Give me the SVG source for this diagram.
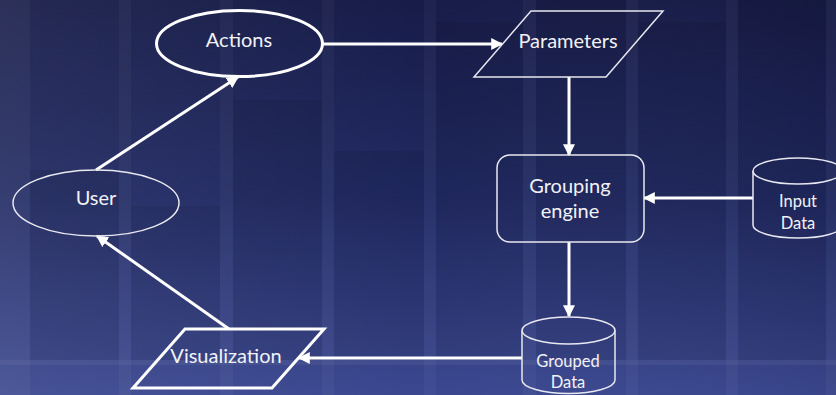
<svg xmlns="http://www.w3.org/2000/svg" width="836" height="395" viewBox="0 0 836 395">
<defs>
<linearGradient id="bg" x1="0" y1="0" x2="0" y2="1">
<stop offset="0" stop-color="#171c48"/>
<stop offset="0.5" stop-color="#212a63"/>
<stop offset="1" stop-color="#3b4890"/>
</linearGradient>
<linearGradient id="side" x1="0" y1="0" x2="1" y2="0">
<stop offset="0" stop-color="#ffffff" stop-opacity="0.06"/>
<stop offset="0.5" stop-color="#ffffff" stop-opacity="0"/>
<stop offset="1" stop-color="#000000" stop-opacity="0.05"/>
</linearGradient>
<marker id="ah" viewBox="0 0 10 10" refX="9" refY="5" markerWidth="4" markerHeight="4" markerUnits="strokeWidth" orient="auto">
<path d="M0,0 L10,5 L0,10 Z" fill="#ffffff"/>
</marker>
<style>
.lbl{font-family:Lato,"Liberation Sans",sans-serif;fill:#f2f2f6;text-anchor:middle}
.big{font-size:20px}
.small{font-size:16.5px}
.thin{fill:none;stroke:#e8e8f0;stroke-width:1.5}
.thick{fill:none;stroke:#ffffff;stroke-width:3}
.conn{fill:none;stroke:#ffffff;stroke-width:3;marker-end:url(#ah)}
.strip{fill:#ffffff;opacity:0.035}
.bar{fill:#000000;opacity:0.07}
</style>
</defs>
<g id="background">
<rect x="0" y="0" width="836" height="395" fill="url(#bg)"/>
<rect x="0" y="0" width="836" height="395" fill="url(#side)"/>
<rect class="strip" x="0" y="0" width="30" height="395"/>
<rect class="strip" x="119" y="0" width="12" height="395"/>
<rect class="strip" x="220" y="0" width="13" height="395"/>
<rect class="strip" x="322" y="0" width="12" height="395"/>
<rect class="strip" x="424" y="0" width="12" height="395"/>
<rect class="strip" x="523" y="0" width="13" height="395"/>
<rect class="strip" x="626" y="0" width="12" height="395"/>
<rect class="strip" x="726" y="0" width="12" height="395"/>
<rect class="strip" x="826" y="0" width="10" height="395"/>
<rect class="bar" x="30" y="170" width="89" height="190"/>
<rect class="bar" x="131" y="206" width="89" height="154"/>
<rect class="bar" x="233" y="100" width="89" height="260"/>
<rect class="bar" x="334" y="151" width="90" height="209"/>
<rect class="bar" x="436" y="22" width="87" height="338"/>
<rect class="bar" x="536" y="0" width="90" height="360"/>
<rect class="bar" x="638" y="22" width="88" height="338"/>
<rect class="bar" x="738" y="0" width="88" height="360"/>
<rect x="0" y="360" width="836" height="5" fill="#ffffff" opacity="0.05"/>
</g>
<g id="connectors">
<line class="conn" x1="323" y1="44" x2="502" y2="44"/>
<line class="conn" x1="569" y1="77" x2="569" y2="155"/>
<line class="conn" x1="753" y1="198" x2="644" y2="198"/>
<line class="conn" x1="569" y1="242" x2="569" y2="316"/>
<line class="conn" x1="522" y1="358" x2="299" y2="358"/>
<line class="conn" x1="229" y1="329" x2="97" y2="236"/>
<line class="conn" x1="96" y1="170" x2="238" y2="77"/>
</g>
<g id="actions">
<ellipse class="thick" cx="239.5" cy="43.5" rx="83" ry="33"/>
<text class="lbl big" x="239" y="47">Actions</text>
</g>
<g id="parameters">
<polygon class="thin" points="531,11 663,11 606,77 474,77"/>
<text class="lbl big" x="568" y="48">Parameters</text>
</g>
<g id="grouping-engine">
<rect class="thin" x="497" y="155" width="147" height="87" rx="13"/>
<text class="lbl big" x="570" y="193">Grouping</text>
<text class="lbl big" x="570" y="218">engine</text>
</g>
<g id="input-data">
<path class="thin" d="M753,171 L753,225 A45,13 0 0 0 843,225 L843,171"/>
<ellipse class="thin" cx="798" cy="171" rx="45" ry="13"/>
<text class="lbl small" x="798" y="207">Input</text>
<text class="lbl small" x="798" y="229">Data</text>
</g>
<g id="grouped-data">
<path class="thin" d="M522,330.5 L522,380 A46.5,13.5 0 0 0 615,380 L615,330.5"/>
<ellipse class="thin" cx="568.5" cy="330.5" rx="46.5" ry="13.5"/>
<text class="lbl small" x="568" y="367">Grouped</text>
<text class="lbl small" x="568" y="388">Data</text>
</g>
<g id="visualization">
<polygon class="thick" points="185,329 324,329 272,388 133,388"/>
<text class="lbl big" x="226" y="363">Visualization</text>
</g>
<g id="user">
<ellipse class="thin" cx="96" cy="203" rx="83" ry="33"/>
<text class="lbl big" x="96" y="205">User</text>
</g>
</svg>
